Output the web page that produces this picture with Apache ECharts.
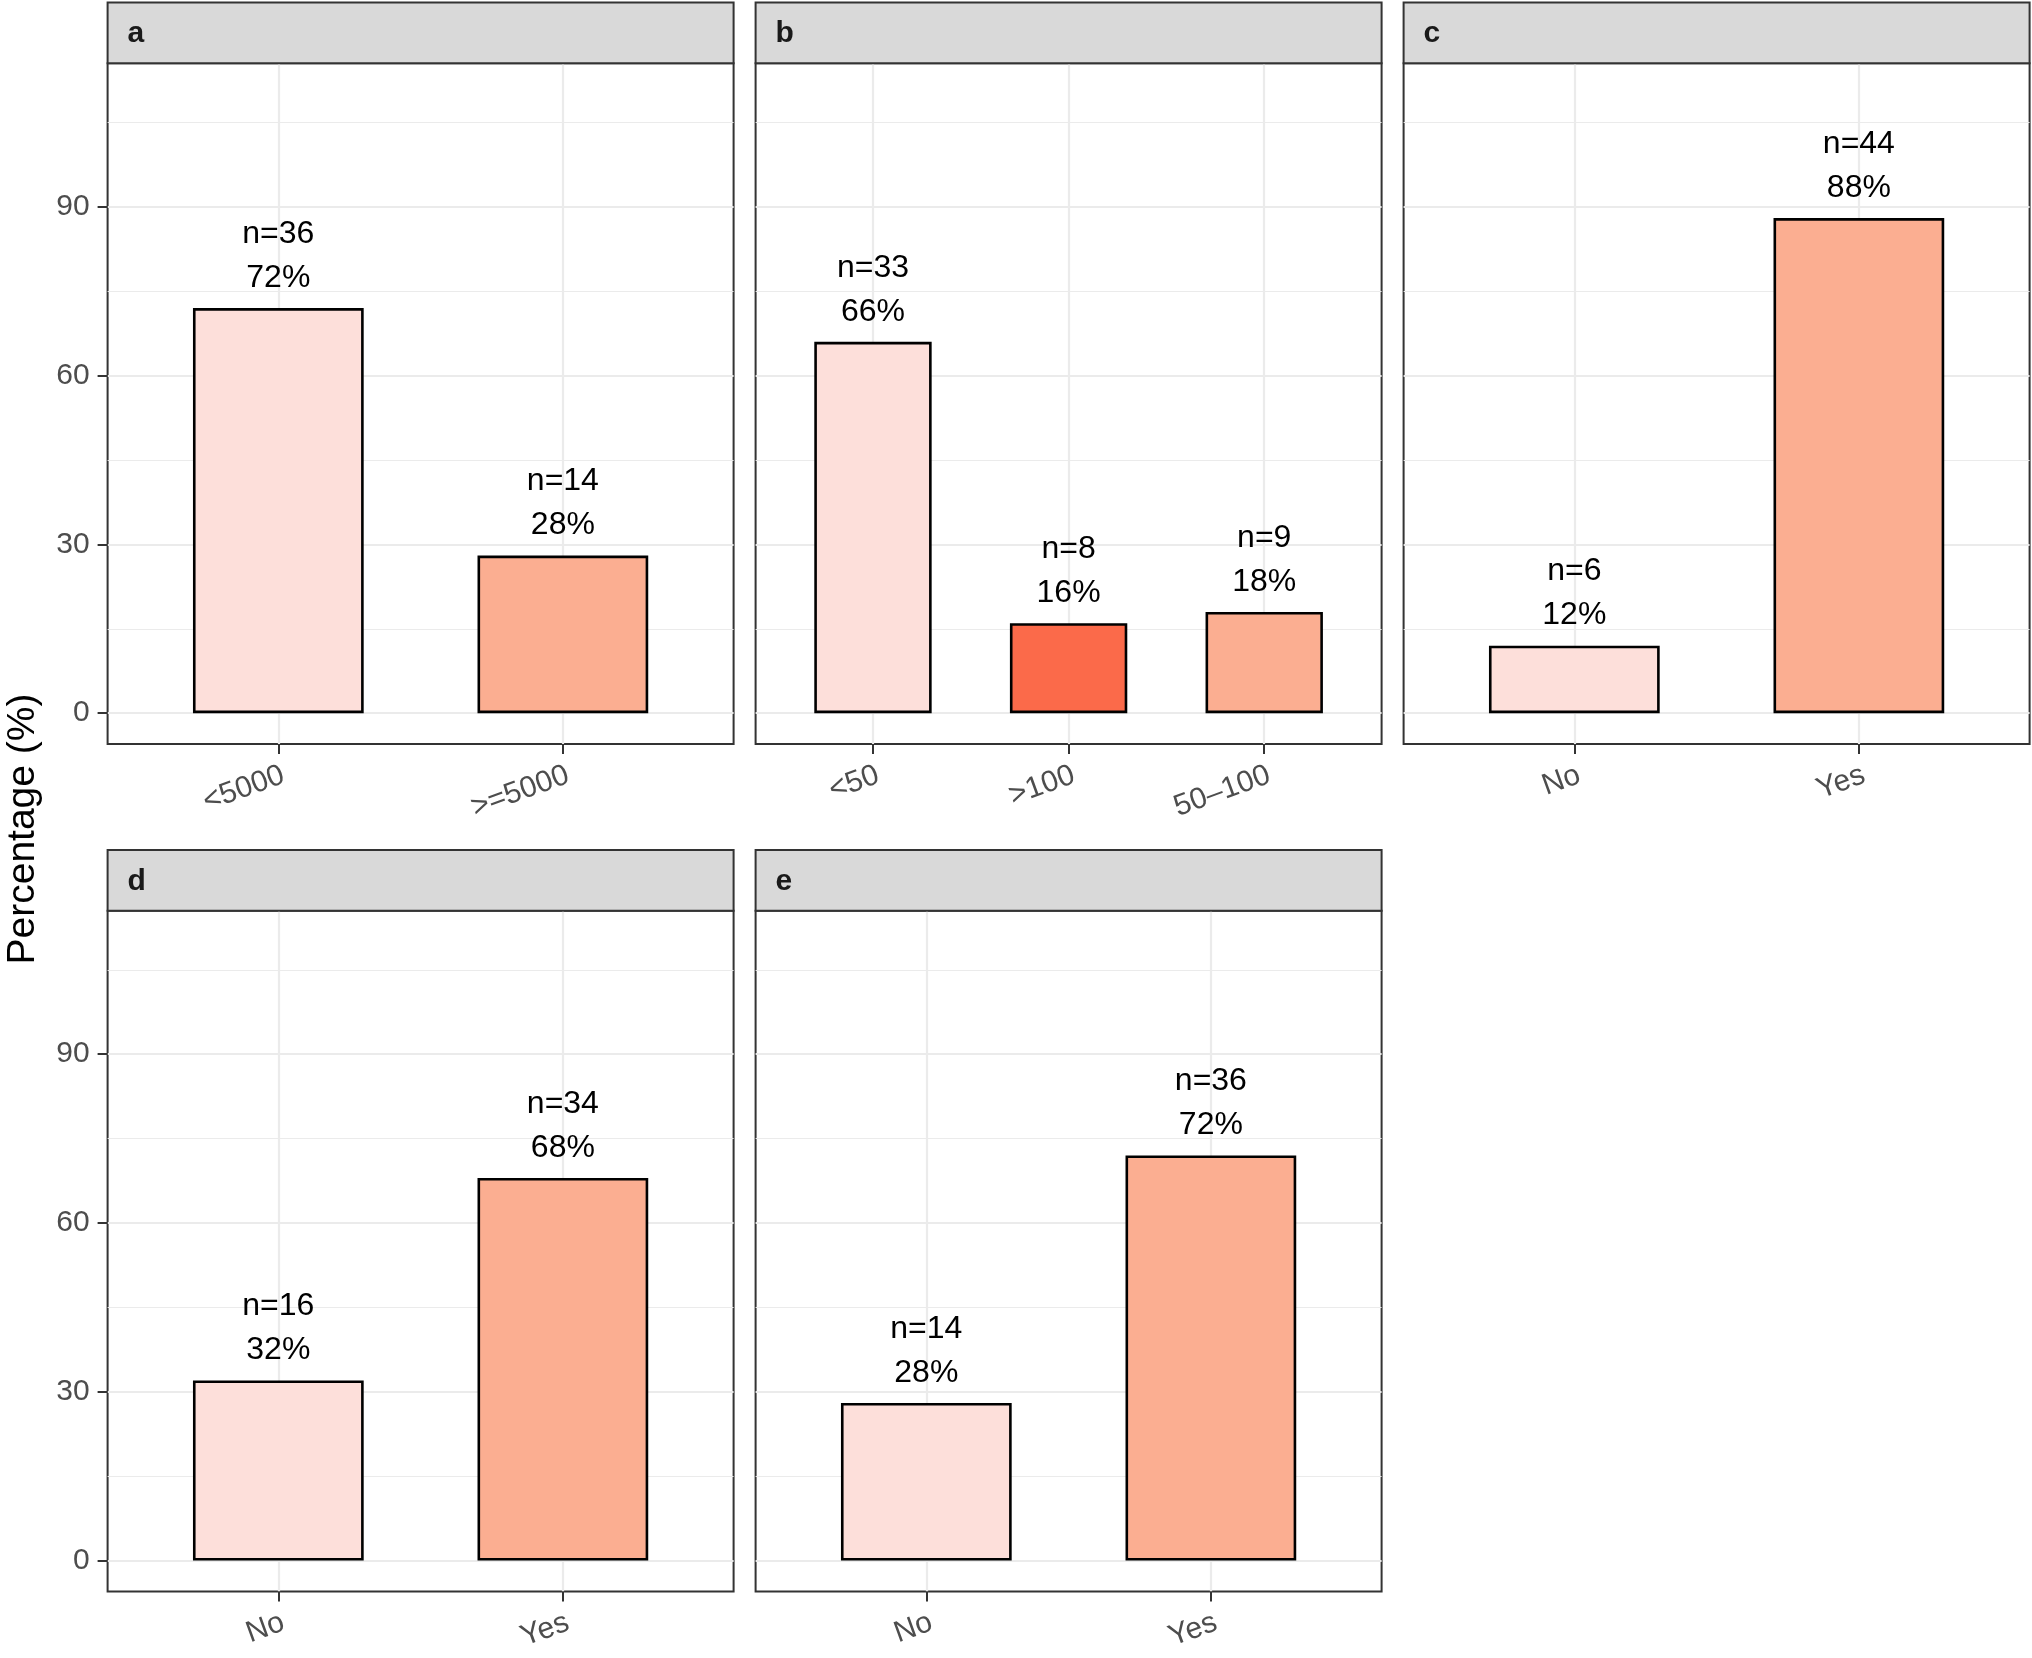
<!DOCTYPE html>
<html><head><meta charset="utf-8">
<script src="https://cdn.jsdelivr.net/npm/echarts@6/dist/echarts.min.js"></script>
<style>html,body{margin:0;padding:0;background:#fff}#c{width:2032px;height:1658px}</style>
</head><body><div id="c"></div><script>
// ---- data ----
const stripLabels = ['a', 'b', 'c', 'd', 'e'];
const catsA = ['<5000', '>=5000'];
const pctA = [72, 28];
const nA = [36, 14];
const catsB = ['<50', '>100', '50–100'];
const pctB = [66, 16, 18];
const nB = [33, 8, 9];
const catsC = ['No', 'Yes'];
const pctC = [12, 88];
const nC = [6, 44];
const catsD = ['No', 'Yes'];
const pctD = [32, 68];
const nD = [16, 34];
const catsE = ['No', 'Yes'];
const pctE = [28, 72];
const nE = [14, 36];
const yMajorTicks = [0, 30, 60, 90];
const yMinorTicks = [15, 45, 75, 105];
const yTitle = 'Percentage (%)';

// ---- style ----
const PINK = '#FDDFDA', SALMON = '#FBAE91', RED = '#FB6A4A';
const colorsA = [PINK, SALMON];
const colorsB = [PINK, RED, SALMON];
const colorsC = [PINK, SALMON];
const colorsD = [PINK, SALMON];
const colorsE = [PINK, SALMON];
const FONT = '"Liberation Sans", Arial, Helvetica, sans-serif';

const panels = [
  { cats: catsA, pct: pctA, n: nA, colors: colorsA, col: 0, row: 0 },
  { cats: catsB, pct: pctB, n: nB, colors: colorsB, col: 1, row: 0 },
  { cats: catsC, pct: pctC, n: nC, colors: colorsC, col: 2, row: 0 },
  { cats: catsD, pct: pctD, n: nD, colors: colorsD, col: 0, row: 1 },
  { cats: catsE, pct: pctE, n: nE, colors: colorsE, col: 1, row: 1 }
];

const colX = [107.6, 755.6, 1403.6];
const panelW = 626;
const rowTop = [2.6, 850];
const stripH = 60.7;
const plotH = 680.8;

const grids = [], xAxes = [], yAxes = [], series = [], graphics = [];

panels.forEach((p, k) => {
  const left = colX[p.col];
  const top = rowTop[p.row];
  const nCat = p.cats.length;
  const showY = p.col === 0;
  grids.push({
    left: left, top: top + stripH, width: panelW, height: plotH,
    show: true, borderColor: '#333333', borderWidth: 2, backgroundColor: '#ffffff',
    containLabel: false
  });
  const catVals = p.cats.map((c, i) => i + 1);
  xAxes.push({
    gridIndex: k, type: 'value', min: 0.4, max: nCat + 0.6, position: 'bottom',
    axisLine: { show: false, onZero: false },
    axisTick: { show: true, customValues: catVals, length: 10, lineStyle: { color: '#333333', width: 2 } },
    axisLabel: {
      show: true, customValues: catVals,
      formatter: v => p.cats[Math.round(v) - 1] || '',
      rotate: 20, align: 'right', verticalAlign: 'top', margin: 16,
      color: '#4D4D4D', fontSize: 30, fontFamily: FONT
    },
    splitLine: { show: true, lineStyle: { color: '#EBEBEB', width: 2.2 } }
  });
  yAxes.push({
    gridIndex: k, type: 'value', min: -5.5, max: 115.5, position: 'left',
    axisLine: { show: false, onZero: false },
    axisTick: { show: showY, customValues: yMajorTicks, length: 10, lineStyle: { color: '#333333', width: 2 } },
    axisLabel: { show: showY, customValues: yMajorTicks, margin: 18, color: '#4D4D4D', fontSize: 30, fontFamily: FONT },
    splitLine: { show: true, lineStyle: { color: '#EBEBEB', width: 2.2 } }
  });
  yAxes.push({
    gridIndex: k, type: 'value', min: -5.5, max: 115.5, position: 'right',
    axisLine: { show: false, onZero: false },
    axisTick: { show: false, customValues: yMinorTicks },
    axisLabel: { show: false, customValues: yMinorTicks },
    splitLine: { show: true, lineStyle: { color: '#EBEBEB', width: 1.2 } }
  });
  series.push({
    type: 'bar', xAxisIndex: k, yAxisIndex: 2 * k,
    barWidth: 0.6 * panelW / (nCat + 0.2),
    data: p.pct.map((v, i) => ({ value: [i + 1, v], itemStyle: { color: p.colors[i] } })),
    itemStyle: { borderColor: '#000000', borderWidth: 2.6 },
    label: {
      show: true, position: 'top', distance: 8,
      formatter: q => 'n=' + p.n[q.dataIndex] + '\n' + p.pct[q.dataIndex] + '%',
      color: '#000000', fontSize: 32, lineHeight: 44, fontFamily: FONT, align: 'center'
    },
    emphasis: { disabled: true },
    silent: true
  });
  graphics.push({
    type: 'rect', z: 10,
    shape: { x: left, y: top, width: panelW, height: stripH },
    style: { fill: '#D9D9D9', stroke: '#333333', lineWidth: 2 }
  });
  graphics.push({
    type: 'text', z: 11,
    style: {
      text: stripLabels[k], x: left + 20, y: top + stripH / 2 + 1,
      fill: '#1A1A1A', font: 'bold 30px ' + FONT, verticalAlign: 'middle', align: 'left'
    }
  });
});

graphics.push({
  type: 'text', z: 11, x: 23, y: 829, rotation: Math.PI / 2,
  style: { text: yTitle, fill: '#000000', font: '39px ' + FONT, align: 'center', verticalAlign: 'middle' }
});

const chart = echarts.init(document.getElementById('c'), null, { renderer: 'canvas' });
chart.setOption({
  animation: false,
  backgroundColor: '#ffffff',
  grid: grids,
  xAxis: xAxes,
  yAxis: yAxes,
  series: series,
  graphic: graphics
});
</script></body></html>
